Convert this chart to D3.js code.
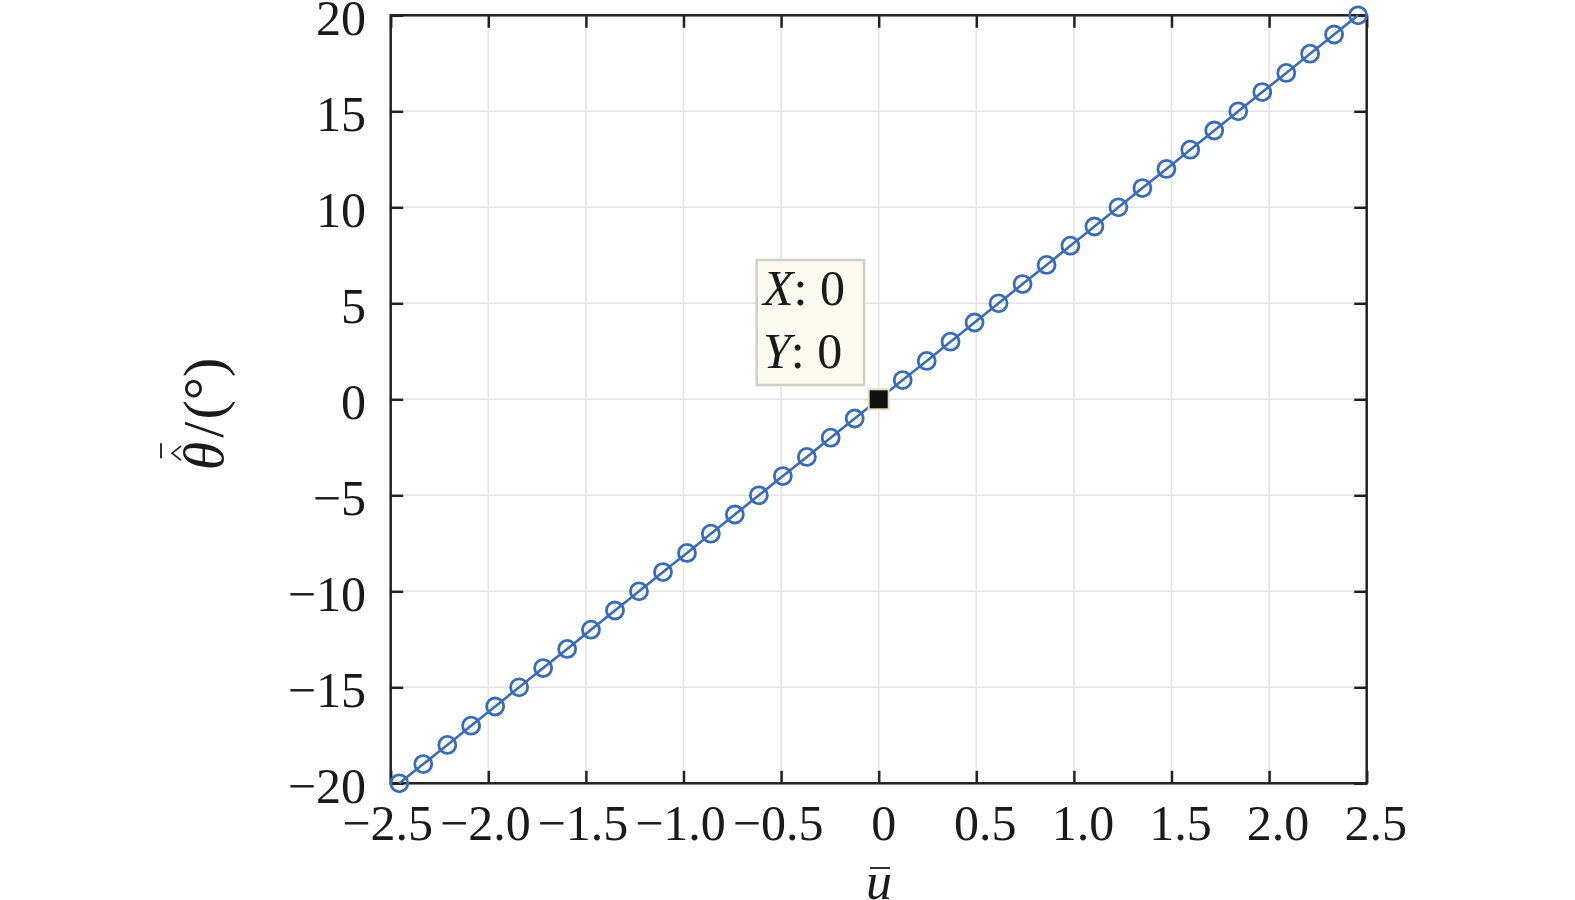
<!DOCTYPE html>
<html>
<head>
<meta charset="utf-8">
<script src="https://cdn.jsdelivr.net/npm/d3@7"></script>
<style>
  html, body { margin: 0; padding: 0; background: #fff; }
  text { font-family: "Liberation Serif", "Times New Roman", serif; fill: #1a1a1a; }
</style>
</head>
<body>
<div id="chart"></div>
<script>
/* Values. */
let uVals = [-2.456, -2.333, -2.210, -2.088, -1.965, -1.842, -1.719, -1.596,
             -1.474, -1.351, -1.228, -1.105, -0.982, -0.860, -0.737, -0.614,
             -0.491, -0.368, -0.246, -0.123, 0, 0.123, 0.246, 0.368, 0.491,
             0.614, 0.737, 0.860, 0.982, 1.105, 1.228, 1.351, 1.474, 1.596,
             1.719, 1.842, 1.965, 2.088, 2.210, 2.333, 2.456];
let thetaVals = [-20, -19, -18, -17, -16, -15, -14, -13, -12, -11, -10, -9,
                 -8, -7, -6, -5, -4, -3, -2, -1, 0, 1, 2, 3, 4, 5, 6, 7, 8,
                 9, 10, 11, 12, 13, 14, 15, 16, 17, 18, 19, 20];

let xTicks = [-2.5, -2.0, -1.5, -1.0, -0.5, 0, 0.5, 1.0, 1.5, 2.0, 2.5];
let xTickLabels = ["\u22122.5", "\u22122.0", "\u22121.5", "\u22121.0", "\u22120.5",
                   "0", "0.5", "1.0", "1.5", "2.0", "2.5"];
let yTicks = [-20, -15, -10, -5, 0, 5, 10, 15, 20];
let yTickLabels = ["\u221220", "\u221215", "\u221210", "\u22125", "0",
                   "5", "10", "15", "20"];

/* The data tip marker: the point and the text lines shown next to it. */
let tipPoint = [0, 0];
let tipLines = [["X", ": 0"], ["Y", ": 0"]];

/* Physical layout of the figure. */
let width = 1575, height = 900;
let box = {left: 390.7, right: 1366.7, top: 15.3, bottom: 783.3};
let tickLen = 12.5;
let fontSize = 50;
let lineColor = "#3a6cb6";

let xscale = d3.scaleLinear().domain([-2.5, 2.5]).range([box.left, box.right]);
let yscale = d3.scaleLinear().domain([-20, 20]).range([box.bottom, box.top]);

let svg = d3.select("#chart").append("svg")
    .attr("width", width)
    .attr("height", height);

/* Grid lines at every tick. */
svg.append("g").selectAll("line")
    .data(xTicks)
    .enter().append("line")
        .attr("x1", d => xscale(d)).attr("x2", d => xscale(d))
        .attr("y1", box.top).attr("y2", box.bottom)
        .attr("stroke", "#e3e3e3").attr("stroke-width", 1.5);
svg.append("g").selectAll("line")
    .data(yTicks)
    .enter().append("line")
        .attr("y1", d => yscale(d)).attr("y2", d => yscale(d))
        .attr("x1", box.left).attr("x2", box.right)
        .attr("stroke", "#e3e3e3").attr("stroke-width", 1.5);

/* Axes: d3 axes with inward ticks on all four sides, labels drawn by hand. */
function styleAxis(g) {
    g.select(".domain").remove();
    g.selectAll(".tick line").attr("stroke", "#222").attr("stroke-width", 2.5);
    g.selectAll(".tick text").remove();
}
svg.append("g")
    .attr("transform", "translate(0," + box.bottom + ")")
    .call(d3.axisTop(xscale).tickValues(xTicks).tickSize(tickLen))
    .call(styleAxis);
svg.append("g")
    .attr("transform", "translate(0," + box.top + ")")
    .call(d3.axisBottom(xscale).tickValues(xTicks).tickSize(tickLen))
    .call(styleAxis);
svg.append("g")
    .attr("transform", "translate(" + box.left + ",0)")
    .call(d3.axisRight(yscale).tickValues(yTicks).tickSize(tickLen))
    .call(styleAxis);
svg.append("g")
    .attr("transform", "translate(" + box.right + ",0)")
    .call(d3.axisLeft(yscale).tickValues(yTicks).tickSize(tickLen))
    .call(styleAxis);

svg.append("rect")
    .attr("x", box.left).attr("y", box.top)
    .attr("width", box.right - box.left).attr("height", box.bottom - box.top)
    .attr("fill", "none").attr("stroke", "#222").attr("stroke-width", 2.5);

/* Tick labels. */
svg.append("g").selectAll("text")
    .data(xTicks)
    .enter().append("text")
        .attr("x", (d, i) => xscale(d) + (d > 0 ? 9 : d < 0 ? -3 : 5))
        .attr("y", 840)
        .attr("text-anchor", "middle")
        .attr("font-size", fontSize)
        .text((d, i) => xTickLabels[i]);
svg.append("g").selectAll("text")
    .data(yTicks)
    .enter().append("text")
        .attr("x", 366)
        .attr("y", d => yscale(d) + 20)
        .attr("text-anchor", "end")
        .attr("font-size", fontSize)
        .text((d, i) => yTickLabels[i]);

/* x label: u with a bar. */
let xlab = svg.append("text")
    .attr("x", 879).attr("y", 899)
    .attr("text-anchor", "middle")
    .attr("font-size", 52)
    .attr("font-style", "italic")
    .text("u");
svg.append("line")
    .attr("x1", 870).attr("x2", 890)
    .attr("y1", 868).attr("y2", 868)
    .attr("stroke", "#1a1a1a").attr("stroke-width", 1.8);

/* y label: theta with a hat and a bar, then /(°), rotated. */
let ylabG = svg.append("g")
    .attr("transform", "translate(223,414) rotate(-90)");
let ylab = ylabG.append("text")
    .attr("text-anchor", "middle")
    .attr("font-size", 58);
ylab.append("tspan").attr("font-style", "italic").text("\u03b8");
ylab.append("tspan").attr("dx", 4).text("/");
ylab.append("tspan").attr("dx", 2).text("(\u00b0)");
let th = ylab.node().getExtentOfChar(0);
let hatX = th.x + th.width * 0.6;
ylabG.append("path")
    .attr("d", "M" + (hatX - 7) + "," + (-42) + "L" + hatX + "," + (-51) +
               "L" + (hatX + 7) + "," + (-42))
    .attr("fill", "none").attr("stroke", "#1a1a1a").attr("stroke-width", 1.6);
ylabG.append("line")
    .attr("x1", hatX - 5).attr("x2", hatX + 10)
    .attr("y1", -62).attr("y2", -62)
    .attr("stroke", "#1a1a1a").attr("stroke-width", 1.8);

/* The data series: line with open circle markers. */
let points = d3.zip(uVals, thetaVals);
let line = d3.line()
    .x(d => xscale(d[0]))
    .y(d => yscale(d[1]));
svg.append("path")
    .attr("d", line(points))
    .attr("fill", "none")
    .attr("stroke", lineColor)
    .attr("stroke-width", 2.6);
svg.append("g").selectAll("circle")
    .data(points)
    .enter().append("circle")
        .attr("cx", d => xscale(d[0]))
        .attr("cy", d => yscale(d[1]))
        .attr("r", 8.5)
        .attr("fill", "none")
        .attr("stroke", lineColor)
        .attr("stroke-width", 2.8);

/* Data tip: black square on the point and the boxed readout. */
svg.append("rect")
    .attr("x", xscale(tipPoint[0]) - 10)
    .attr("y", yscale(tipPoint[1]) - 10)
    .attr("width", 20).attr("height", 20)
    .attr("fill", "#111")
    .attr("stroke", "#e4dfb6").attr("stroke-width", 2);
svg.append("rect")
    .attr("x", 756.7).attr("y", 260)
    .attr("width", 107.3).attr("height", 125)
    .attr("fill", "#fbfbef")
    .attr("stroke", "#cfcfc6").attr("stroke-width", 2.5);
let tip = svg.append("g").selectAll("text")
    .data(tipLines)
    .enter().append("text")
        .attr("x", 763)
        .attr("y", (d, i) => 305 + i * 63)
        .attr("font-size", fontSize);
tip.append("tspan").attr("font-style", "italic").text(d => d[0]);
tip.append("tspan").text(d => d[1]);
</script>
</body>
</html>
